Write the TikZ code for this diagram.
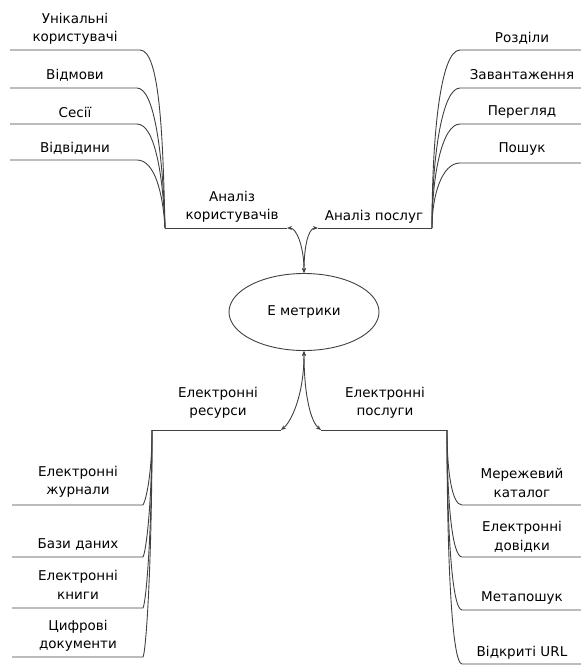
\documentclass[tikz,border=0pt]{standalone}
\usepackage{fontspec}
\setmainfont{DejaVu Sans}
\usetikzlibrary{shapes.geometric,arrows.meta}
\begin{document}
\begin{tikzpicture}[x=1pt,y=-1pt,
  lbl/.style={font=\fontsize{13.5}{18.5}\selectfont, align=center, inner sep=0pt, text=black},
  link/.style={draw=black!75, line width=0.9pt},
  arr/.style={link, {Stealth[length=5pt,width=4pt]}-{Stealth[length=5pt,width=4pt]}}]
\useasboundingbox (0,0) rectangle (581,667);

% centre
\node[ellipse, draw=black!75, line width=0.9pt, minimum width=150pt, minimum height=77pt, inner sep=0pt, lbl] (E) at (304,312) {E метрики};

% ---------- top left ----------
\coordinate (tlA) at (165,228);
\coordinate (tlB) at (287,228);
\draw[link] (tlA) -- (tlB);
\node[lbl] (tlL) at (232,207) {Аналіз\\користувачів};

\coordinate (a1s) at (10,50);  \coordinate (a1e) at (140,50);
\coordinate (a2s) at (10,88);  \coordinate (a2e) at (137,88);
\coordinate (a3s) at (10,124); \coordinate (a3e) at (137,124);
\coordinate (a4s) at (10,160); \coordinate (a4e) at (137,160);
\node[lbl] (a1) at (75,29) {Унікальні\\користувачі};
\node[lbl] (a2) at (75,75) {Відмови};
\node[lbl] (a3) at (75,112) {Сесії};
\node[lbl] (a4) at (75,148) {Відвідини};
\draw[link] (a1s) -- (a1e) .. controls +(20,0) and +(-2,-89) .. (tlA);
\draw[link] (a2s) -- (a2e) .. controls +(18,0) and +(-2,-70) .. (tlA);
\draw[link] (a3s) -- (a3e) .. controls +(18,0) and +(-2,-52) .. (tlA);
\draw[link] (a4s) -- (a4e) .. controls +(18,0) and +(-2,-34) .. (tlA);

% ---------- top right ----------
\coordinate (trA) at (318,228);
\coordinate (trB) at (432,228);
\draw[link] (trA) -- (trB);
\node[lbl] (trL) at (374,217) {Аналіз послуг};

\coordinate (b1s) at (460,50);  \coordinate (b1e) at (581,50);
\coordinate (b2s) at (460,88);  \coordinate (b2e) at (581,88);
\coordinate (b3s) at (460,124); \coordinate (b3e) at (581,124);
\coordinate (b4s) at (460,163); \coordinate (b4e) at (581,163);
\node[lbl] (b1) at (522,38) {Розділи};
\node[lbl] (b2) at (522,75) {Завантаження};
\node[lbl] (b3) at (522,112) {Перегляд};
\node[lbl] (b4) at (522,149) {Пошук};
\draw[link] (trB) .. controls +(0,-89) and +(-20,0) .. (b1s) -- (b1e);
\draw[link] (trB) .. controls +(0,-70) and +(-18,0) .. (b2s) -- (b2e);
\draw[link] (trB) .. controls +(0,-52) and +(-18,0) .. (b3s) -- (b3e);
\draw[link] (trB) .. controls +(0,-33) and +(-18,0) .. (b4s) -- (b4e);

% ---------- bottom left ----------
\coordinate (blA) at (152,430);
\coordinate (blB) at (281,430);
\draw[link] (blA) -- (blB);
\node[lbl] (blL) at (218,403) {Електронні\\ресурси};

\coordinate (c1s) at (12,505); \coordinate (c1e) at (143,505);
\coordinate (c2s) at (12,557); \coordinate (c2e) at (143,557);
\coordinate (c3s) at (12,608); \coordinate (c3e) at (143,608);
\coordinate (c4s) at (12,657); \coordinate (c4e) at (143,657);
\node[lbl] (c1) at (78,482) {Електронні\\журнали};
\node[lbl] (c2) at (78,545) {Бази даних};
\node[lbl] (c3) at (78,585) {Електронні\\книги};
\node[lbl] (c4) at (78,636) {Цифрові\\документи};
\draw[link] (blA) .. controls +(0,45) and +(3,-5) .. (c1e) -- (c1s);
\draw[link] (blA) .. controls +(0,75) and +(3,-5) .. (c2e) -- (c2s);
\draw[link] (blA) .. controls +(0,105) and +(3,-5) .. (c3e) -- (c3s);
\draw[link] (blA) .. controls +(0,135) and +(3,-5) .. (c4e) -- (c4s);

% ---------- bottom right ----------
\coordinate (brA) at (321,430);
\coordinate (brB) at (447,430);
\draw[link] (brA) -- (brB);
\node[lbl] (brL) at (385,403) {Електронні\\послуги};

\coordinate (d1s) at (462,505); \coordinate (d1e) at (581,505);
\coordinate (d2s) at (462,557); \coordinate (d2e) at (581,557);
\coordinate (d3s) at (462,610); \coordinate (d3e) at (581,610);
\coordinate (d4s) at (462,664); \coordinate (d4e) at (581,664);
\node[lbl] (d1) at (522,483) {Мережевий\\каталог};
\node[lbl] (d2) at (522,537) {Електронні\\довідки};
\node[lbl] (d3) at (522,598) {Метапошук};
\node[lbl] (d4) at (522,653) {Відкриті URL};
\draw[link] (brB) .. controls +(0,42) and +(-10,0) .. (d1s) -- (d1e);
\draw[link] (brB) .. controls +(0,70) and +(-10,0) .. (d2s) -- (d2e);
\draw[link] (brB) .. controls +(0,100) and +(-10,0) .. (d3s) -- (d3e);
\draw[link] (brB) .. controls +(0,130) and +(-10,0) .. (d4s) -- (d4e);

% ---------- connectors to centre ----------
\draw[arr] (tlB) .. controls +(10,0) and +(0,-25) .. (E.north);
\draw[arr] (trA) .. controls +(-10,0) and +(0,-25) .. (E.north);
\draw[arr] (E.south) .. controls +(0,45) and +(10,-8) .. (blB);
\draw[arr] (E.south) .. controls +(0,45) and +(-10,-8) .. (brA);
\end{tikzpicture}
\end{document}
